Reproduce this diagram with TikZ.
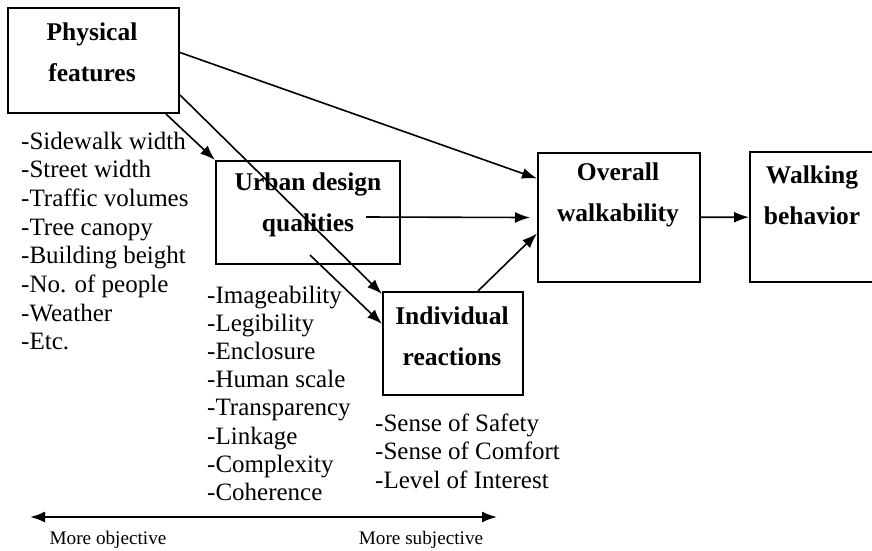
\documentclass[tikz,border=0pt]{standalone}
\usepackage{fontspec}
\setmainfont{Liberation Serif}
\usetikzlibrary{arrows.meta}

\begin{document}
\begin{tikzpicture}[x=1pt,y=-1pt,
		box/.style={draw, line width=2pt, inner sep=0pt},
		head/.style={font=\bfseries\fontsize{25.5}{41}\selectfont, align=center, inner sep=0pt},
		item/.style={font=\fontsize{25}{28}\selectfont, anchor=base west, inner sep=0pt},
		arr/.style={line width=1.6pt, -{Latex[length=15pt,width=11pt]}},
		small/.style={font=\fontsize{19.2}{20}\selectfont, inner sep=0pt}]
		\clip (0,0) rectangle (872,550);
		\foreach \name/\x/\y/\w/\h in {%
			pf/93.5/60.5/171/105,
			ud/308/212.5/184/103,
			ir/453/343.5/140/103,
			ow/619/217.5/162/129,
			wb/815/217/130/130}%
		{
			\node[box, minimum width=\w pt, minimum height=\h pt] (\name) at (\x,\y) {};
		};
		\node[head] (pft) at (92,52) {Physical\\features};
		\node[head] (udt) at (308,205) {Urban design\\qualities};
		\node[head] (irt) at (452,336) {Individual\\reactions};
		\node[head] (owt) at (618,195) {Overall\\walkability};
		\node[head] (wbt) at (812,195) {Walking\\behavior};
		\foreach \t [count=\i] in {-Sidewalk width, -Street width, -Traffic volumes, -Tree canopy, -Building beight, -No. of people, -Weather, -Etc.}
			\node[item] (pfl\i) at (21,{149+28.7*(\i-1)}) {\t};
		\foreach \t [count=\i] in {-Imageability, -Legibility, -Enclosure, -Human scale, -Transparency, -Linkage, -Complexity, -Coherence}
			\node[item] (udl\i) at (207,{303.5+28.1*(\i-1)}) {\t};
		\foreach \t [count=\i] in {-Sense of Safety, -Sense of Comfort, -Level of Interest}
			\node[item] (irl\i) at (375,{431+28.5*(\i-1)}) {\t};
		\draw[arr] ([yshift=8pt]pf.east) -- ([yshift=39pt]ow.west);
		\draw[arr] ([xshift=-14pt]pf.south east) -- (ud.north west);
		\draw[arr] ([yshift=-34.5pt]pf.east) -- ([yshift=-3pt]ir.north west);
		\draw[arr] ([shift={(2pt,-42.5pt)}]ud.center) -- ([yshift=-33pt]ir.north west);
		\draw[arr] ([shift={(-35pt,-4.5pt)}]ud.east) -- ([shift={(-7pt,0pt)}]ow.west);
		\draw[arr] ([xshift=25pt]ir.north) -- ([yshift=-16pt]ow.west);
		\draw[arr] (ow) -- (wb);
		\coordinate (objl) at (30,517);
		\coordinate (subr) at (497,517);
		\draw[line width=2pt, {Latex[length=15pt,width=11pt]}-{Latex[length=15pt,width=11pt]}] (objl) -- (subr);
		\node[small] (obj) at (108,540) {More objective};
		\node[small] (subj) at (421,540) {More subjective};
	\end{tikzpicture}
\end{document}
